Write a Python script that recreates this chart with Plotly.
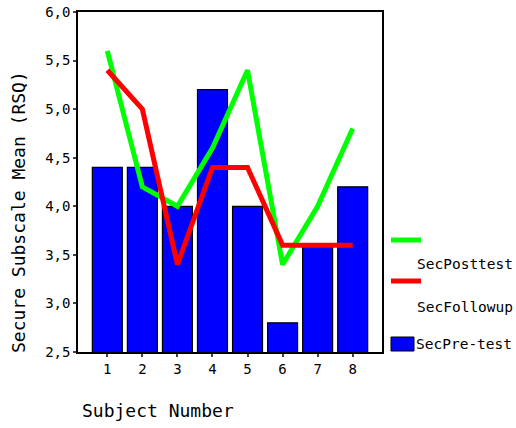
import plotly.graph_objects as go

subjects = [1, 2, 3, 4, 5, 6, 7, 8]
pre_test = [4.4, 4.4, 4.0, 5.2, 4.0, 2.8, 3.6, 4.2]
post_test = [5.6, 4.2, 4.0, 4.6, 5.4, 3.4, 4.0, 4.8]
follow_up = [5.4, 5.0, 3.4, 4.4, 4.4, 3.6, 3.6, 3.6]
y_tickvals = [2.5, 3.0, 3.5, 4.0, 4.5, 5.0, 5.5, 6.0]
y_ticktext = ["2,5", "3,0", "3,5", "4,0", "4,5", "5,0", "5,5", "6,0"]
legend_names = ["SecPosttest", "SecFollowup", "SecPre-test"]

FONT = "DejaVu Sans Mono"
W, H = 516, 428
L, T = 78, 12
R = W - 382
B = H - 352
PW, PH = W - L - R, H - T - B


def px(x):
    return (x - L) / PW


def py(y):
    return (H - B - y) / PH


fig = go.Figure()
fig.add_trace(go.Bar(x=subjects, y=pre_test, name=legend_names[2], width=0.855,
                     marker=dict(color="#0000FF", line=dict(color="black", width=1.2))))
fig.add_trace(go.Scatter(x=subjects, y=post_test, mode="lines", name=legend_names[0],
                         line=dict(color="#00FF00", width=5)))
fig.add_trace(go.Scatter(x=subjects, y=follow_up, mode="lines", name=legend_names[1],
                         line=dict(color="#FF0000", width=5)))

shapes = [
    dict(type="line", xref="paper", yref="paper", x0=px(391), x1=px(421), y0=py(240), y1=py(240),
         line=dict(color="#00FF00", width=5)),
    dict(type="line", xref="paper", yref="paper", x0=px(391), x1=px(421), y0=py(281), y1=py(281),
         line=dict(color="#FF0000", width=5)),
    dict(type="rect", xref="paper", yref="paper", x0=px(391), x1=px(414), y0=py(337), y1=py(351),
         fillcolor="#0000FF", line=dict(color="black", width=1)),
]
annotations = [
    dict(text=legend_names[0], xref="paper", yref="paper", x=px(415), y=py(264),
         xanchor="left", yanchor="middle", showarrow=False, font=dict(size=14.5, family=FONT)),
    dict(text=legend_names[1], xref="paper", yref="paper", x=px(415), y=py(307),
         xanchor="left", yanchor="middle", showarrow=False, font=dict(size=14.5, family=FONT)),
    dict(text=legend_names[2], xref="paper", yref="paper", x=px(414), y=py(344),
         xanchor="left", yanchor="middle", showarrow=False, font=dict(size=14.5, family=FONT)),
    dict(text="Secure Subscale Mean (RSQ)", xref="paper", yref="paper", x=px(18), y=py(212),
         xanchor="center", yanchor="middle", textangle=-90, showarrow=False,
         font=dict(size=18, family=FONT)),
    dict(text="Subject Number", xref="paper", yref="paper", x=px(80), y=py(410),
         xanchor="left", yanchor="middle", showarrow=False, font=dict(size=18, family=FONT)),
]

fig.update_layout(
    width=W, height=H,
    margin=dict(l=L, r=R, t=T, b=B, autoexpand=False),
    paper_bgcolor="white", plot_bgcolor="white",
    font=dict(family=FONT, color="black", size=14),
    showlegend=False,
    shapes=shapes, annotations=annotations,
    xaxis=dict(range=[0.164, 8.836], tickvals=subjects, ticks="outside", ticklen=3,
               tickwidth=2, showline=True, linecolor="black", linewidth=1.5,
               mirror=True, showgrid=False, zeroline=False, automargin=False,
               tickfont=dict(size=14, family=FONT)),
    yaxis=dict(range=[2.5, 6.0], tickvals=y_tickvals, ticktext=y_ticktext,
               ticks="outside", ticklen=3, tickwidth=2, showline=True,
               linecolor="black", linewidth=1.5, mirror=True, showgrid=False,
               zeroline=False, automargin=False,
               tickfont=dict(size=14, family=FONT)),
)

fig.write_html("out.html", config={"displayModeBar": False},
               post_script="document.body.style.margin='0';document.body.style.overflow='hidden';")
